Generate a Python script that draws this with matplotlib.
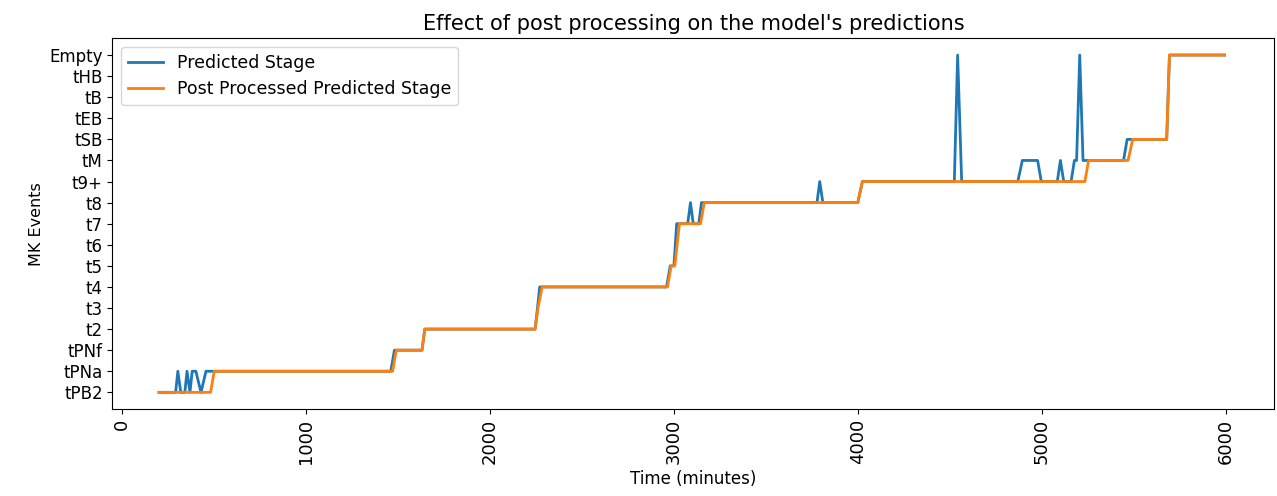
import matplotlib.pyplot as plt

# MK event stages, bottom to top
stages = ["tPB2", "tPNa", "tPNf", "t2", "t3", "t4", "t5", "t6", "t7", "t8",
          "t9+", "tM", "tSB", "tEB", "tB", "tHB", "Empty"]

# raw model prediction (time in minutes, stage index)
pred_time = [200, 290, 302, 318, 340, 352, 368, 380, 400, 428, 455, 478,
             1460, 1480, 1630, 1645, 2245, 2258, 2270, 2960, 2980, 3000, 3015,
             3075, 3090, 3105, 3135, 3150, 3778, 3793, 3810, 4000, 4025,
             4525, 4543, 4565, 4870, 4895, 4978, 4998, 5085, 5102, 5120,
             5160, 5178, 5190, 5207, 5225, 5445, 5465, 5680, 5695, 5995]
pred_stage = [0, 0, 1, 0, 0, 1, 0, 1, 1, 0, 1, 1,
              1, 2, 2, 3, 3, 4, 5, 5, 6, 6, 8,
              8, 9, 8, 8, 9, 9, 10, 9, 9, 10,
              10, 16, 10, 10, 11, 11, 10, 10, 11, 10,
              10, 11, 11, 16, 11, 11, 12, 12, 16, 16]

# after post processing
post_time = [200, 480, 500, 1470, 1490, 1630, 1645, 2245, 2261, 2283,
             2965, 2985, 3005, 3030, 3145, 3165, 4000, 4025, 5235, 5255,
             5470, 5495, 5680, 5695, 5995]
post_stage = [0, 0, 1, 1, 2, 2, 3, 3, 4, 5,
              5, 6, 6, 8, 8, 9, 9, 10, 10, 11,
              11, 12, 12, 16, 16]

fig = plt.figure(figsize=(12.77, 4.96), dpi=100)
ax = fig.add_axes([0.088, 0.175, 0.910, 0.748])

ax.plot(pred_time, pred_stage, color="#1f77b4", linewidth=2, label="Predicted Stage")
ax.plot(post_time, post_stage, color="#ff7f0e", linewidth=2, label="Post Processed Predicted Stage")

ax.set_yticks(range(len(stages)))
ax.set_yticklabels(stages, fontsize=12)
ax.set_ylim(-0.8, 16.8)
ax.set_xlim(-54, 6266)
ax.set_xticks([0, 1000, 2000, 3000, 4000, 5000, 6000])
ax.tick_params(axis="x", labelrotation=90, labelsize=13)

ax.set_xlabel("Time (minutes)", fontsize=12)
ax.set_ylabel("MK Events", fontsize=11.5)
ax.set_title("Effect of post processing on the model's predictions", fontsize=15)
ax.legend(loc="upper left", fontsize=12.5)

fig.savefig("out.png", dpi=100)
